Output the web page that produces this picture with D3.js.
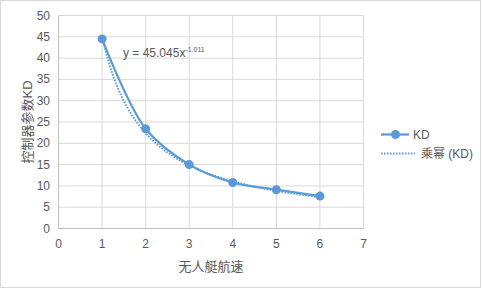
<!doctype html>
<html>
<head>
    <meta charset="utf-8">
    <script src="https://d3js.org/d3.v7.min.js"></script>
    <style>
        body { margin: 0; background: #fff; }
        text { font-family: "Liberation Sans", "Noto Sans CJK SC", sans-serif; fill: #595959; }
    </style>
</head>
<body>
    <svg width="482" height="290"></svg>

    <script>
        // data
        var speeds = [1, 2, 3, 4, 5, 6];
        var kdValues = [44.5, 23.4, 15.0, 10.8, 9.1, 7.6];
        var xTicks = [0, 1, 2, 3, 4, 5, 6, 7];
        var yTicks = [0, 5, 10, 15, 20, 25, 30, 35, 40, 45, 50];
        // power trendline coefficients as printed on the chart
        var trendCoef = [45.045, -1.011];
        var trendSamples = d3.range(1, 6.01, 0.1);

        var svg = d3.select("svg");
        var blue = "#5b9bd5";

        // chart border
        svg.append("rect")
            .attr("x", 0.5).attr("y", 0.5)
            .attr("width", 480).attr("height", 287)
            .attr("fill", "#fff")
            .attr("stroke", "#d9d9d9");

        var x = d3.scaleLinear().domain([0, 7]).range([58.5, 363.5]);
        var y = d3.scaleLinear().domain([0, 50]).range([228.5, 15.5]);

        var g = svg.append("g");

        // gridlines
        g.selectAll(".hgrid").data(yTicks).enter().append("line")
            .attr("x1", x(0)).attr("x2", x(7))
            .attr("y1", d => y(d)).attr("y2", d => y(d))
            .attr("stroke", "#d9d9d9");
        g.selectAll(".vgrid").data(xTicks).enter().append("line")
            .attr("x1", d => x(d)).attr("x2", d => x(d))
            .attr("y1", y(0)).attr("y2", y(50))
            .attr("stroke", "#d9d9d9");

        // axis lines
        g.append("line").attr("x1", x(0)).attr("x2", x(7))
            .attr("y1", y(0)).attr("y2", y(0)).attr("stroke", "#bfbfbf");
        g.append("line").attr("x1", x(0)).attr("x2", x(0))
            .attr("y1", y(0)).attr("y2", y(50)).attr("stroke", "#bfbfbf");

        // tick labels
        g.selectAll(".ylab").data(yTicks).enter().append("text")
            .attr("x", 50).attr("y", d => y(d) + 4)
            .attr("text-anchor", "end")
            .attr("font-size", "12px")
            .text(d => d);
        g.selectAll(".xlab").data(xTicks).enter().append("text")
            .attr("x", d => x(d)).attr("y", 248)
            .attr("text-anchor", "middle")
            .attr("font-size", "12px")
            .text(d => d);

        // axis titles
        svg.append("text")
            .attr("transform", "translate(32," + 122 + ") rotate(-90)")
            .attr("text-anchor", "middle")
            .attr("font-size", "13px")
            .text("控制器参数KD");
        svg.append("text")
            .attr("x", 211).attr("y", 271)
            .attr("text-anchor", "middle")
            .attr("font-size", "13px")
            .text("无人艇航速");

        // trendline (dotted)
        var trend = trendSamples.map(v => [v, trendCoef[0] * Math.pow(v, trendCoef[1])]);
        g.append("path")
            .datum(trend)
            .attr("fill", "none")
            .attr("stroke", blue)
            .attr("stroke-width", 2)
            .attr("stroke-dasharray", "1.5,1.5")
            .attr("d", d3.line().x(d => x(d[0])).y(d => y(d[1])));

        // main series, smoothed
        var pts = speeds.map((s, i) => [s, kdValues[i]]);
        g.append("path")
            .datum(pts)
            .attr("fill", "none")
            .attr("stroke", blue)
            .attr("stroke-width", 2.25)
            .attr("d", d3.line().curve(d3.curveCatmullRom).x(d => x(d[0])).y(d => y(d[1])));
        g.selectAll(".pt").data(pts).enter().append("circle")
            .attr("cx", d => x(d[0])).attr("cy", d => y(d[1]))
            .attr("r", 4.5)
            .attr("fill", blue);

        // equation label
        var eq = svg.append("text")
            .attr("x", 123).attr("y", 57)
            .attr("font-size", "12px");
        eq.append("tspan").text("y = " + trendCoef[0].toFixed(3) + "x");
        eq.append("tspan").attr("dy", -5).attr("font-size", "7px").text(trendCoef[1].toFixed(3));

        // legend
        var lg = svg.append("g");
        lg.append("line").attr("x1", 381).attr("x2", 409)
            .attr("y1", 134.5).attr("y2", 134.5)
            .attr("stroke", blue).attr("stroke-width", 2.25);
        lg.append("circle").attr("cx", 395.5).attr("cy", 134.5).attr("r", 4.5).attr("fill", blue);
        lg.append("text").attr("x", 413).attr("y", 139).attr("font-size", "12px").text("KD");
        lg.append("line").attr("x1", 381).attr("x2", 415)
            .attr("y1", 153.5).attr("y2", 153.5)
            .attr("stroke", blue).attr("stroke-width", 2)
            .attr("stroke-dasharray", "1.5,1.5");
        lg.append("text").attr("x", 421).attr("y", 158).attr("font-size", "12px").text("乘幂 (KD)");
    </script>
</body>
</html>
